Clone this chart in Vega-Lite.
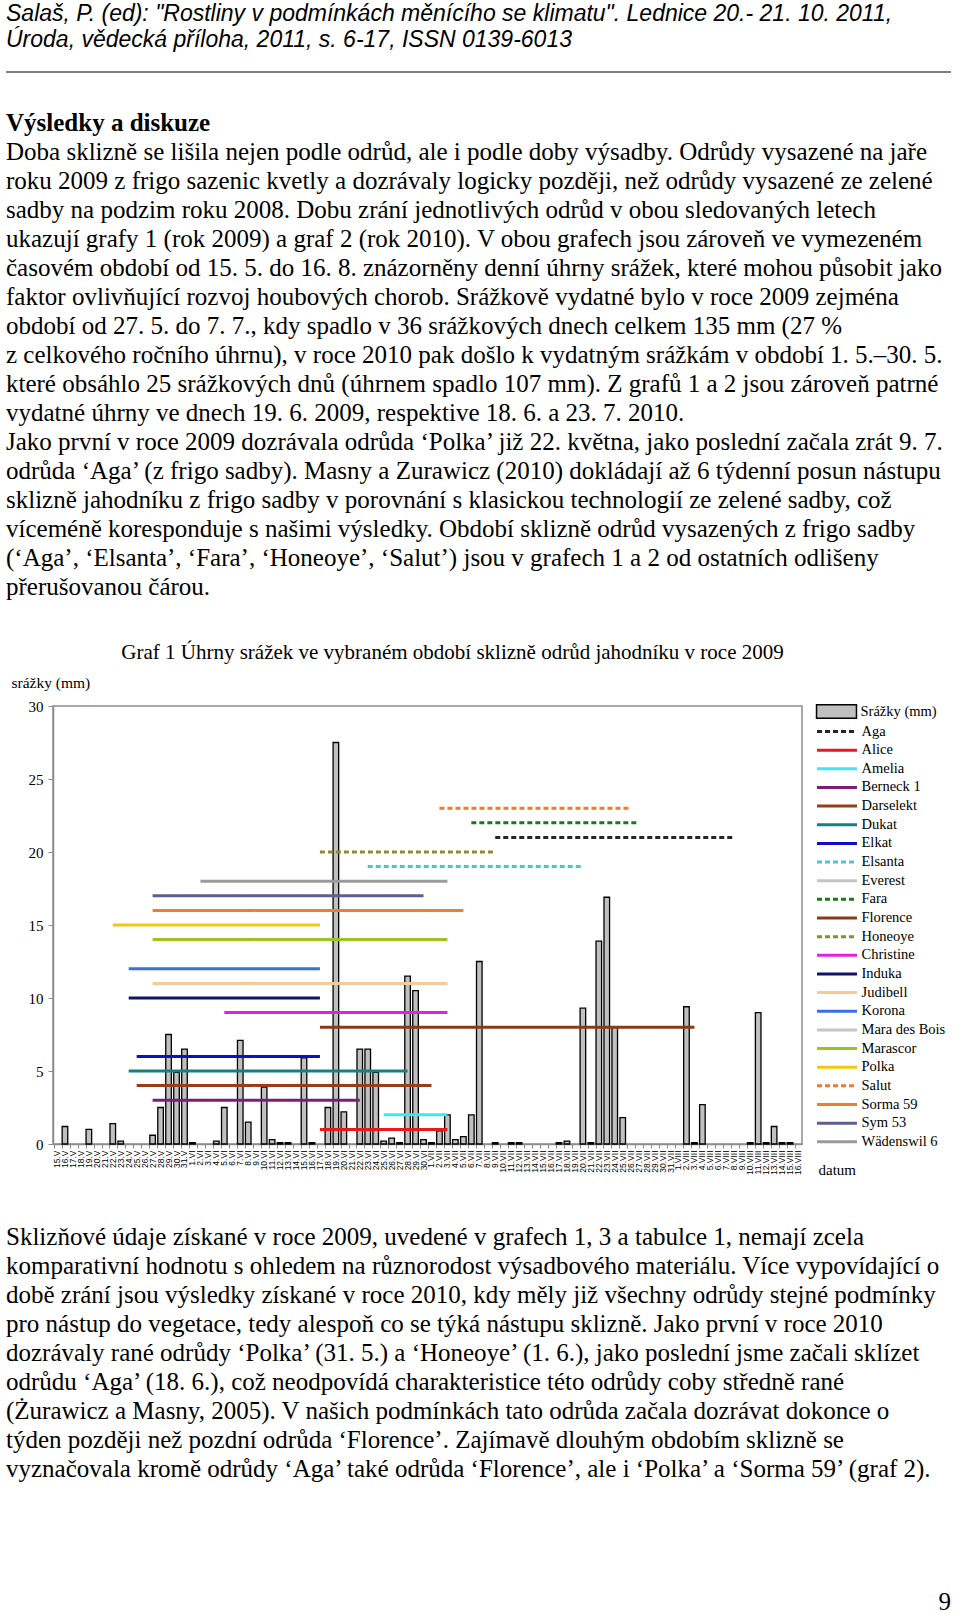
{
  "$schema": "https://vega.github.io/schema/vega-lite/v6.json",
  "background": "white",
  "padding": {"left": 5, "top": 2, "right": 0, "bottom": 0},
  "spacing": 0,
  "config": {"view": {"stroke": null}, "font": "Liberation Serif"},
  "vconcat": [
    {
      "width": 945,
      "height": 70,
      "layer": [
        {
          "data": {"values": [
            {"radek": 1, "text": "Salaš, P. (ed): \"Rostliny v podmínkách měnícího se klimatu\". Lednice 20.- 21. 10. 2011,"},
            {"radek": 2, "text": "Úroda, vědecká příloha, 2011, s. 6-17, ISSN 0139-6013"}
          ]},
          "mark": {"type": "text", "align": "left", "baseline": "middle", "font": "Liberation Sans", "fontStyle": "italic", "fontSize": 23, "color": "black"},
          "encoding": {
            "x": {"datum": 0, "type": "quantitative", "scale": {"domain": [0, 1], "range": [-47, 898]}, "axis": null},
            "y": {"field": "radek", "type": "quantitative", "scale": {"domain": [0.577, 3.269], "reverse": true}, "axis": null},
            "text": {"field": "text"}
          }
        },
        {
          "data": {"values": [{"cara": "oddělovač"}]},
          "mark": {"type": "rule", "color": "black", "strokeWidth": 1.2},
          "encoding": {
            "x": {"datum": 0, "type": "quantitative", "scale": {"domain": [0, 1], "range": [-47, 898]}, "axis": null},
            "x2": {"datum": 1},
            "y": {"datum": 3.23, "type": "quantitative", "scale": {"domain": [0.577, 3.269], "reverse": true}, "axis": null}
          }
        }
      ]
    },
    {
      "width": 945,
      "height": 568,
      "layer": [
        {
          "data": {"values": [{"radek": 0, "text": "Výsledky a diskuze"}]},
          "mark": {"type": "text", "align": "left", "baseline": "middle", "font": "Liberation Serif", "fontWeight": "bold", "fontSize": 25, "color": "black"},
          "encoding": {
            "x": {"datum": 0, "type": "quantitative", "scale": {"domain": [0, 1], "range": [-47, 898]}, "axis": null},
            "y": {"field": "radek", "type": "quantitative", "scale": {"domain": [-1.724, 17.862], "reverse": true}, "axis": null},
            "text": {"field": "text"}
          }
        },
        {
          "data": {"values": [
            {"radek": 1, "text": "Doba sklizně se lišila nejen podle odrůd, ale i podle doby výsadby. Odrůdy vysazené na jaře"},
            {"radek": 2, "text": "roku 2009 z frigo sazenic kvetly a dozrávaly logicky později, než odrůdy vysazené ze zelené"},
            {"radek": 3, "text": "sadby na podzim roku 2008. Dobu zrání jednotlivých odrůd v obou sledovaných letech"},
            {"radek": 4, "text": "ukazují grafy 1 (rok 2009) a graf 2 (rok 2010). V obou grafech jsou zároveň ve vymezeném"},
            {"radek": 5, "text": "časovém období od 15. 5. do 16. 8. znázorněny denní úhrny srážek, které mohou působit jako"},
            {"radek": 6, "text": "faktor ovlivňující rozvoj houbových chorob. Srážkově vydatné bylo v roce 2009 zejména"},
            {"radek": 7, "text": "období od 27. 5. do 7. 7., kdy spadlo v 36 srážkových dnech celkem 135 mm (27 %"},
            {"radek": 8, "text": "z celkového ročního úhrnu), v roce 2010 pak došlo k vydatným srážkám v období 1. 5.–30. 5."},
            {"radek": 9, "text": "které obsáhlo 25 srážkových dnů (úhrnem spadlo 107 mm). Z grafů 1 a 2 jsou zároveň patrné"},
            {"radek": 10, "text": "vydatné úhrny ve dnech 19. 6. 2009, respektive 18. 6. a 23. 7. 2010."},
            {"radek": 11, "text": "Jako první v roce 2009 dozrávala odrůda ‘Polka’ již 22. května, jako poslední začala zrát 9. 7."},
            {"radek": 12, "text": "odrůda ‘Aga’ (z frigo sadby). Masny a Zurawicz (2010) dokládají až 6 týdenní posun nástupu"},
            {"radek": 13, "text": "sklizně jahodníku z frigo sadby v porovnání s klasickou technologií ze zelené sadby, což"},
            {"radek": 14, "text": "víceméně koresponduje s našimi výsledky. Období sklizně odrůd vysazených z frigo sadby"},
            {"radek": 15, "text": "(‘Aga’, ‘Elsanta’, ‘Fara’, ‘Honeoye’, ‘Salut’) jsou v grafech 1 a 2 od ostatních odlišeny"},
            {"radek": 16, "text": "přerušovanou čárou."}
          ]},
          "mark": {"type": "text", "align": "left", "baseline": "middle", "font": "Liberation Serif", "fontSize": 25, "color": "black"},
          "encoding": {
            "x": {"datum": 0, "type": "quantitative", "scale": {"domain": [0, 1], "range": [-47, 898]}, "axis": null},
            "y": {"field": "radek", "type": "quantitative", "scale": {"domain": [-1.724, 17.862], "reverse": true}, "axis": null},
            "text": {"field": "text"}
          }
        }
      ]
    },
    {
      "width": 749,
      "height": 438,
      "view": {"stroke": "#8c8c8c", "strokeWidth": 1.5},
      "title": {"text": "Graf 1  Úhrny srážek ve vybraném období sklizně odrůd jahodníku v roce 2009", "font": "Liberation Serif", "fontSize": 21, "fontWeight": "normal", "color": "black", "anchor": "middle", "frame": "group", "dx": 25, "offset": 12},
      "layer": [
        {
          "data": {"values": [
            {"den": "16.V", "srazky": 1.2, "serie": "Srážky (mm)"},
            {"den": "19.V", "srazky": 1.0, "serie": "Srážky (mm)"},
            {"den": "22.V", "srazky": 1.4, "serie": "Srážky (mm)"},
            {"den": "23.V", "srazky": 0.2, "serie": "Srážky (mm)"},
            {"den": "27.V", "srazky": 0.6, "serie": "Srážky (mm)"},
            {"den": "28.V", "srazky": 2.5, "serie": "Srážky (mm)"},
            {"den": "29.V", "srazky": 7.5, "serie": "Srážky (mm)"},
            {"den": "30.V", "srazky": 4.9, "serie": "Srážky (mm)"},
            {"den": "31.V", "srazky": 6.5, "serie": "Srážky (mm)"},
            {"den": "1.VI", "srazky": 0.1, "serie": "Srážky (mm)"},
            {"den": "4.VI", "srazky": 0.2, "serie": "Srážky (mm)"},
            {"den": "5.VI", "srazky": 2.5, "serie": "Srážky (mm)"},
            {"den": "7.VI", "srazky": 7.1, "serie": "Srážky (mm)"},
            {"den": "8.VI", "srazky": 1.5, "serie": "Srážky (mm)"},
            {"den": "10.VI", "srazky": 3.9, "serie": "Srážky (mm)"},
            {"den": "11.VI", "srazky": 0.3, "serie": "Srážky (mm)"},
            {"den": "12.VI", "srazky": 0.1, "serie": "Srážky (mm)"},
            {"den": "13.VI", "srazky": 0.1, "serie": "Srážky (mm)"},
            {"den": "15.VI", "srazky": 5.9, "serie": "Srážky (mm)"},
            {"den": "16.VI", "srazky": 0.1, "serie": "Srážky (mm)"},
            {"den": "18.VI", "srazky": 2.5, "serie": "Srážky (mm)"},
            {"den": "19.VI", "srazky": 27.5, "serie": "Srážky (mm)"},
            {"den": "20.VI", "srazky": 2.2, "serie": "Srážky (mm)"},
            {"den": "22.VI", "srazky": 6.5, "serie": "Srážky (mm)"},
            {"den": "23.VI", "srazky": 6.5, "serie": "Srážky (mm)"},
            {"den": "24.VI", "srazky": 4.9, "serie": "Srážky (mm)"},
            {"den": "25.VI", "srazky": 0.2, "serie": "Srážky (mm)"},
            {"den": "26.VI", "srazky": 0.4, "serie": "Srážky (mm)"},
            {"den": "27.VI", "srazky": 0.1, "serie": "Srážky (mm)"},
            {"den": "28.VI", "srazky": 11.5, "serie": "Srážky (mm)"},
            {"den": "29.VI", "srazky": 10.5, "serie": "Srážky (mm)"},
            {"den": "30.VI", "srazky": 0.3, "serie": "Srážky (mm)"},
            {"den": "1.VII", "srazky": 0.1, "serie": "Srážky (mm)"},
            {"den": "2.VII", "srazky": 0.9, "serie": "Srážky (mm)"},
            {"den": "3.VII", "srazky": 2.0, "serie": "Srážky (mm)"},
            {"den": "4.VII", "srazky": 0.3, "serie": "Srážky (mm)"},
            {"den": "5.VII", "srazky": 0.5, "serie": "Srážky (mm)"},
            {"den": "6.VII", "srazky": 2.0, "serie": "Srážky (mm)"},
            {"den": "7.VII", "srazky": 12.5, "serie": "Srážky (mm)"},
            {"den": "9.VII", "srazky": 0.1, "serie": "Srážky (mm)"},
            {"den": "11.VII", "srazky": 0.1, "serie": "Srážky (mm)"},
            {"den": "12.VII", "srazky": 0.1, "serie": "Srážky (mm)"},
            {"den": "17.VII", "srazky": 0.1, "serie": "Srážky (mm)"},
            {"den": "18.VII", "srazky": 0.2, "serie": "Srážky (mm)"},
            {"den": "20.VII", "srazky": 9.3, "serie": "Srážky (mm)"},
            {"den": "21.VII", "srazky": 0.1, "serie": "Srážky (mm)"},
            {"den": "22.VII", "srazky": 13.9, "serie": "Srážky (mm)"},
            {"den": "23.VII", "srazky": 16.9, "serie": "Srážky (mm)"},
            {"den": "24.VII", "srazky": 8.0, "serie": "Srážky (mm)"},
            {"den": "25.VII", "srazky": 1.8, "serie": "Srážky (mm)"},
            {"den": "2.VIII", "srazky": 9.4, "serie": "Srážky (mm)"},
            {"den": "3.VIII", "srazky": 0.1, "serie": "Srážky (mm)"},
            {"den": "4.VIII", "srazky": 2.7, "serie": "Srážky (mm)"},
            {"den": "10.VIII", "srazky": 0.1, "serie": "Srážky (mm)"},
            {"den": "11.VIII", "srazky": 9.0, "serie": "Srážky (mm)"},
            {"den": "12.VIII", "srazky": 0.1, "serie": "Srážky (mm)"},
            {"den": "13.VIII", "srazky": 1.2, "serie": "Srážky (mm)"},
            {"den": "14.VIII", "srazky": 0.1, "serie": "Srážky (mm)"},
            {"den": "15.VIII", "srazky": 0.1, "serie": "Srážky (mm)"}
          ]},
          "mark": {"type": "bar", "stroke": "black", "strokeWidth": 1.3},
          "encoding": {
            "x": {"field": "den", "type": "nominal",
              "scale": {"domain": ["15.V","16.V","17.V","18.V","19.V","20.V","21.V","22.V","23.V","24.V","25.V","26.V","27.V","28.V","29.V","30.V","31.V","1.VI","2.VI","3.VI","4.VI","5.VI","6.VI","7.VI","8.VI","9.VI","10.VI","11.VI","12.VI","13.VI","14.VI","15.VI","16.VI","17.VI","18.VI","19.VI","20.VI","21.VI","22.VI","23.VI","24.VI","25.VI","26.VI","27.VI","28.VI","29.VI","30.VI","1.VII","2.VII","3.VII","4.VII","5.VII","6.VII","7.VII","8.VII","9.VII","10.VII","11.VII","12.VII","13.VII","14.VII","15.VII","16.VII","17.VII","18.VII","19.VII","20.VII","21.VII","22.VII","23.VII","24.VII","25.VII","26.VII","27.VII","28.VII","29.VII","30.VII","31.VII","1.VIII","2.VIII","3.VIII","4.VIII","5.VIII","6.VIII","7.VIII","8.VIII","9.VIII","10.VIII","11.VIII","12.VIII","13.VIII","14.VIII","15.VIII","16.VIII"], "paddingInner": 0.3, "paddingOuter": 0.15},
              "axis": {"title": "datum", "titleFont": "Liberation Serif", "titleFontSize": 15, "titleFontWeight": "normal", "titleColor": "black", "titleAlign": "left", "titleBaseline": "middle", "titleX": 765, "titleY": 25, "labelAngle": 270, "labelAlign": "right", "labelBaseline": "middle", "labelFont": "Liberation Sans", "labelFontSize": 8.5, "labelColor": "black", "labelPadding": 2, "labelOverlap": false, "labelBound": false, "labelFlush": false, "ticks": true, "tickSize": 4, "tickColor": "#8c8c8c", "bandPosition": 0, "domainColor": "#8c8c8c", "domainWidth": 1.5, "grid": false}},
            "y": {"field": "srazky", "type": "quantitative", "scale": {"domain": [0, 30], "nice": false},
              "axis": {"values": [0, 5, 10, 15, 20, 25, 30], "title": "srážky (mm)", "titleAngle": 0, "titleAlign": "left", "titleBaseline": "middle", "titleX": -42, "titleY": -24, "titleFont": "Liberation Serif", "titleFontSize": 15.5, "titleFontWeight": "normal", "titleColor": "black", "labelFont": "Liberation Serif", "labelFontSize": 15, "labelColor": "black", "labelPadding": 5, "tickSize": 5, "tickColor": "#8c8c8c", "domainColor": "#8c8c8c", "domainWidth": 1.5, "grid": false}},
            "color": {"field": "serie", "type": "nominal", "scale": {"domain": ["Srážky (mm)"], "range": ["#c0c0c0"]},
              "legend": {"title": null, "orient": "none", "legendX": 774, "legendY": 699, "symbolType": "M-2.35,-0.8H2.35V0.8H-2.35Z", "symbolSize": 289, "symbolStrokeColor": "black", "symbolStrokeWidth": 1.5, "labelFont": "Liberation Serif", "labelFontSize": 14.5, "labelColor": "black", "labelOffset": 14.5, "padding": 0}}
          }
        },
        {
          "data": {"values": [
            {"odruda": "Aga", "od": "9.VII", "do": "8.VIII", "uroven": 21},
            {"odruda": "Alice", "od": "17.VI", "do": "3.VII", "uroven": 1},
            {"odruda": "Amelia", "od": "25.VI", "do": "3.VII", "uroven": 2},
            {"odruda": "Berneck 1", "od": "27.V", "do": "22.VI", "uroven": 3},
            {"odruda": "Darselekt", "od": "25.V", "do": "1.VII", "uroven": 4},
            {"odruda": "Dukat", "od": "24.V", "do": "28.VI", "uroven": 5},
            {"odruda": "Elkat", "od": "25.V", "do": "17.VI", "uroven": 6},
            {"odruda": "Elsanta", "od": "23.VI", "do": "20.VII", "uroven": 19},
            {"odruda": "Fara", "od": "6.VII", "do": "27.VII", "uroven": 22},
            {"odruda": "Florence", "od": "17.VI", "do": "3.VIII", "uroven": 8},
            {"odruda": "Honeoye", "od": "17.VI", "do": "9.VII", "uroven": 20},
            {"odruda": "Christine", "od": "5.VI", "do": "3.VII", "uroven": 9},
            {"odruda": "Induka", "od": "24.V", "do": "17.VI", "uroven": 10},
            {"odruda": "Judibell", "od": "27.V", "do": "3.VII", "uroven": 11},
            {"odruda": "Korona", "od": "24.V", "do": "17.VI", "uroven": 12},
            {"odruda": "Marascor", "od": "27.V", "do": "3.VII", "uroven": 14},
            {"odruda": "Polka", "od": "22.V", "do": "17.VI", "uroven": 15},
            {"odruda": "Salut", "od": "2.VII", "do": "26.VII", "uroven": 23},
            {"odruda": "Sorma 59", "od": "27.V", "do": "5.VII", "uroven": 16},
            {"odruda": "Sym 53", "od": "27.V", "do": "30.VI", "uroven": 17},
            {"odruda": "Wädenswil 6", "od": "2.VI", "do": "3.VII", "uroven": 18}
          ]},
          "mark": {"type": "rule", "strokeWidth": 3},
          "encoding": {
            "x": {"field": "od", "type": "nominal",
              "scale": {"domain": ["15.V","16.V","17.V","18.V","19.V","20.V","21.V","22.V","23.V","24.V","25.V","26.V","27.V","28.V","29.V","30.V","31.V","1.VI","2.VI","3.VI","4.VI","5.VI","6.VI","7.VI","8.VI","9.VI","10.VI","11.VI","12.VI","13.VI","14.VI","15.VI","16.VI","17.VI","18.VI","19.VI","20.VI","21.VI","22.VI","23.VI","24.VI","25.VI","26.VI","27.VI","28.VI","29.VI","30.VI","1.VII","2.VII","3.VII","4.VII","5.VII","6.VII","7.VII","8.VII","9.VII","10.VII","11.VII","12.VII","13.VII","14.VII","15.VII","16.VII","17.VII","18.VII","19.VII","20.VII","21.VII","22.VII","23.VII","24.VII","25.VII","26.VII","27.VII","28.VII","29.VII","30.VII","31.VII","1.VIII","2.VIII","3.VIII","4.VIII","5.VIII","6.VIII","7.VIII","8.VIII","9.VIII","10.VIII","11.VIII","12.VIII","13.VIII","14.VIII","15.VIII","16.VIII"], "paddingInner": 0.3, "paddingOuter": 0.15},
              "axis": {"title": "datum", "titleFont": "Liberation Serif", "titleFontSize": 15, "titleFontWeight": "normal", "titleColor": "black", "titleAlign": "left", "titleBaseline": "middle", "titleX": 765, "titleY": 25, "labelAngle": 270, "labelAlign": "right", "labelBaseline": "middle", "labelFont": "Liberation Sans", "labelFontSize": 8.5, "labelColor": "black", "labelPadding": 2, "labelOverlap": false, "labelBound": false, "labelFlush": false, "ticks": true, "tickSize": 4, "tickColor": "#8c8c8c", "bandPosition": 0, "domainColor": "#8c8c8c", "domainWidth": 1.5, "grid": false}},
            "x2": {"field": "do"},
            "y": {"field": "uroven", "type": "quantitative", "scale": {"domain": [0, 30], "nice": false},
              "axis": {"values": [0, 5, 10, 15, 20, 25, 30], "title": "srážky (mm)", "titleAngle": 0, "titleAlign": "left", "titleBaseline": "middle", "titleX": -42, "titleY": -24, "titleFont": "Liberation Serif", "titleFontSize": 15.5, "titleFontWeight": "normal", "titleColor": "black", "labelFont": "Liberation Serif", "labelFontSize": 15, "labelColor": "black", "labelPadding": 5, "tickSize": 5, "tickColor": "#8c8c8c", "domainColor": "#8c8c8c", "domainWidth": 1.5, "grid": false}},
            "stroke": {"field": "odruda", "type": "nominal",
              "scale": {"domain": ["Aga","Alice","Amelia","Berneck 1","Darselekt","Dukat","Elkat","Elsanta","Everest","Fara","Florence","Honeoye","Christine","Induka","Judibell","Korona","Mara des Bois","Marascor","Polka","Salut","Sorma 59","Sym 53","Wädenswil 6"],
                "range": ["#262626","#e8191c","#3de8f2","#7b1e7a","#9a3c14","#17807e","#0d0dd0","#47c9c9","#c4c4c4","#1b7a1b","#8a3a16","#8c8c33","#e022e0","#12126e","#f7c99a","#3a6fe0","#c4c4c4","#9cc421","#f2c80f","#ef7a2c","#ee7d30","#5f5f8f","#9a9a9a"]},
              "legend": {"title": null, "orient": "none", "legendX": 774, "legendY": 718.5, "symbolType": "M-2.35,0H2.35", "symbolSize": 289, "symbolStrokeWidth": 3, "labelFont": "Liberation Serif", "labelFontSize": 14.5, "labelColor": "black", "labelOffset": 14.5, "rowPadding": 1.65, "padding": 0}},
            "strokeDash": {"field": "odruda", "type": "nominal",
              "scale": {"domain": ["Aga","Alice","Amelia","Berneck 1","Darselekt","Dukat","Elkat","Elsanta","Everest","Fara","Florence","Honeoye","Christine","Induka","Judibell","Korona","Mara des Bois","Marascor","Polka","Salut","Sorma 59","Sym 53","Wädenswil 6"],
                "range": [[5,3],[1,0],[1,0],[1,0],[1,0],[1,0],[1,0],[5,3],[1,0],[5,3],[1,0],[5,3],[1,0],[1,0],[1,0],[1,0],[1,0],[1,0],[1,0],[5,3],[1,0],[1,0],[1,0]]},
              "legend": {"title": null, "orient": "none", "legendX": 774, "legendY": 718.5, "symbolType": "M-2.35,0H2.35", "symbolSize": 289, "symbolStrokeWidth": 3, "labelFont": "Liberation Serif", "labelFontSize": 14.5, "labelColor": "black", "labelOffset": 14.5, "rowPadding": 1.65, "padding": 0}}
          }
        }
      ]
    },
    {
      "width": 945,
      "height": 410,
      "data": {"values": [
        {"radek": 1, "text": "Sklizňové údaje získané v roce 2009, uvedené v grafech 1, 3 a tabulce 1, nemají zcela"},
        {"radek": 2, "text": "komparativní hodnotu s ohledem na různorodost výsadbového materiálu. Více vypovídající o"},
        {"radek": 3, "text": "době zrání jsou výsledky získané v roce 2010, kdy měly již všechny odrůdy stejné podmínky"},
        {"radek": 4, "text": "pro nástup do vegetace, tedy alespoň co se týká nástupu sklizně. Jako první v roce 2010"},
        {"radek": 5, "text": "dozrávaly rané odrůdy ‘Polka’ (31. 5.) a ‘Honeoye’ (1. 6.), jako poslední jsme začali sklízet"},
        {"radek": 6, "text": "odrůdu ‘Aga’ (18. 6.), což neodpovídá charakteristice této odrůdy coby středně rané"},
        {"radek": 7, "text": "(Żurawicz a Masny, 2005). V našich podmínkách tato odrůda začala dozrávat dokonce o"},
        {"radek": 8, "text": "týden později než pozdní odrůda ‘Florence’. Zajímavě dlouhým obdobím sklizně se"},
        {"radek": 9, "text": "vyznačovala kromě odrůdy ‘Aga’ také odrůda ‘Florence’, ale i ‘Polka’ a ‘Sorma 59’ (graf 2)."}
      ]},
      "mark": {"type": "text", "align": "left", "baseline": "middle", "font": "Liberation Serif", "fontSize": 25, "color": "black"},
      "encoding": {
        "x": {"datum": 0, "type": "quantitative", "scale": {"domain": [0, 1], "range": [-47, 898]}, "axis": null},
        "y": {"field": "radek", "type": "quantitative", "scale": {"domain": [-1.034, 13.104], "reverse": true}, "axis": null},
        "text": {"field": "text"}
      }
    },
    {
      "width": 945,
      "height": 28,
      "data": {"values": [{"strana": "9"}]},
      "mark": {"type": "text", "align": "right", "baseline": "middle", "font": "Liberation Serif", "fontSize": 25, "color": "black"},
      "encoding": {
        "x": {"datum": 1, "type": "quantitative", "scale": {"domain": [0, 1], "range": [-47, 898]}, "axis": null},
        "text": {"field": "strana"}
      }
    }
  ]
}
